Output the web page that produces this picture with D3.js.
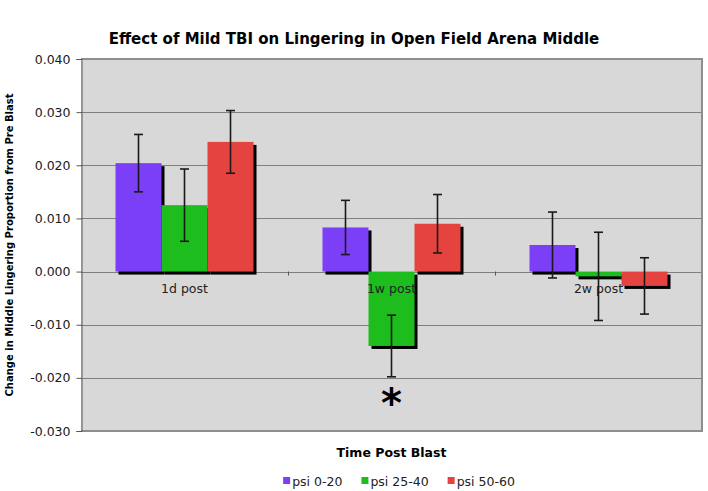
<!DOCTYPE html>
<html>
<head>
<meta charset="utf-8">
<script src="https://cdn.jsdelivr.net/npm/d3@7"></script>
<style>
  html, body { margin: 0; padding: 0; background: #ffffff; }
  svg { display: block; font-family: "DejaVu Sans", Verdana, sans-serif; }
</style>
</head>
<body>
<svg id="chart" width="708" height="491"></svg>
<script>
const categories = ["1d post", "1w post", "2w post"];
const seriesNames = ["psi 0-20", "psi 25-40", "psi 50-60"];
const seriesColors = ["#7b3ff7", "#1cbd1c", "#e5433f"];
const meansPsi0_20  = [0.0204, 0.0083, 0.0050];
const meansPsi25_40 = [0.0125, -0.0140, -0.0009];
const meansPsi50_60 = [0.0244, 0.0090, -0.0027];
const errPsi0_20  = [0.0054, 0.0051, 0.0062];
const errPsi25_40 = [0.0068, 0.0058, 0.0083];
const errPsi50_60 = [0.0059, 0.0055, 0.0053];
const yTicks = [-0.03, -0.02, -0.01, 0, 0.01, 0.02, 0.03, 0.04];
const titleText = "Effect of Mild TBI on Lingering in Open Field Arena Middle";
const xTitleText = "Time Post Blast";
const yTitleText = "Change in Middle Lingering Proportion from Pre Blast";
const significance = [{ category: "1w post", series: "psi 25-40", mark: "*" }];

(function () {
const meansAll = [meansPsi0_20, meansPsi25_40, meansPsi50_60];
const errAll = [errPsi0_20, errPsi25_40, errPsi50_60];
const data = [];
categories.forEach((c, ci) => {
  seriesNames.forEach((s, si) => {
    data.push({ category: c, series: s, value: meansAll[si][ci], err: errAll[si][ci], color: seriesColors[si] });
  });
});

const svg = d3.select("#chart");
const pL = 81, pR = 702, pT = 59, pB = 431;

const x = d3.scaleBand().domain(categories).range([pL, pR]).paddingInner(0).paddingOuter(0);
const xs = d3.scaleBand().domain(seriesNames).range([0, x.bandwidth()]).paddingInner(0).paddingOuter(0.75);
const y = d3.scaleLinear().domain([-0.03, 0.04]).range([pB, pT]);
const loc = d3.formatLocale({ decimal: ".", thousands: ",", grouping: [3], currency: ["$", ""], minus: "-" });
const fmt = loc.format(".3f");

// Plot background
svg.append("rect").attr("x", pL).attr("y", pT).attr("width", pR - pL).attr("height", pB - pT)
  .attr("fill", "#d8d8d8");

// Gridlines
svg.append("g").selectAll("line").data(yTicks.filter(t => t > -0.03 && t < 0.04)).join("line")
  .attr("x1", pL).attr("x2", pR)
  .attr("y1", d => Math.round(y(d)) + 0.5).attr("y2", d => Math.round(y(d)) + 0.5)
  .attr("stroke", "#7f7f7f").attr("stroke-width", 1);

// Border (top, right, bottom)
svg.append("path")
  .attr("d", `M${pL},${pT} H${pR} V${pB} H${pL}`)
  .attr("fill", "none").attr("stroke", "#8e8e8e").attr("stroke-width", 2);

// Y axis
const yAxis = d3.axisLeft(y).tickValues(yTicks).tickFormat(fmt).tickSize(5).tickPadding(6);
const gy = svg.append("g").attr("transform", `translate(${pL + 0.5},0)`).call(yAxis);
gy.select(".domain").attr("stroke", "#555");
gy.selectAll(".tick line").attr("stroke", "#555");
gy.selectAll(".tick text").attr("font-size", 12.5).attr("fill", "#1a1a1a")
  .attr("font-family", "DejaVu Sans, Verdana, sans-serif");

// Shadows
const barX = d => x(d.category) + xs(d.series);
const barY = d => Math.min(y(d.value), y(0));
const barH = d => Math.abs(y(d.value) - y(0));
svg.append("g").selectAll("rect").data(data).join("rect")
  .attr("x", d => barX(d) + 3).attr("y", d => barY(d) + 3)
  .attr("width", xs.bandwidth()).attr("height", d => barH(d))
  .attr("fill", "#000");

// Bars
svg.append("g").selectAll("rect").data(data).join("rect")
  .attr("x", d => barX(d)).attr("y", d => barY(d))
  .attr("width", xs.bandwidth()).attr("height", d => barH(d))
  .attr("fill", d => d.color);

// X axis at zero: ticks between categories
const boundaries = categories.slice(1).map(c => x(c));
svg.append("g").selectAll("line").data(boundaries).join("line")
  .attr("x1", d => d + 0.5).attr("x2", d => d + 0.5)
  .attr("y1", y(0)).attr("y2", y(0) + 4)
  .attr("stroke", "#555").attr("stroke-width", 1);

// Category labels
svg.append("g").selectAll("text").data(categories).join("text")
  .attr("x", d => x(d) + x.bandwidth() / 2).attr("y", y(0) + 21)
  .attr("text-anchor", "middle").attr("font-size", 12.5).attr("fill", "#222")
  .text(d => d);

// Error bars
const eb = svg.append("g").attr("stroke", "#1a1a1a").attr("stroke-width", 1.6);
data.forEach(d => {
  const cx = barX(d) + xs.bandwidth() / 2;
  const y1 = y(d.value + d.err), y2 = y(d.value - d.err);
  eb.append("line").attr("x1", cx).attr("x2", cx).attr("y1", y1).attr("y2", y2);
  eb.append("line").attr("x1", cx - 4.5).attr("x2", cx + 4.5).attr("y1", y1).attr("y2", y1);
  eb.append("line").attr("x1", cx - 4.5).attr("x2", cx + 4.5).attr("y1", y2).attr("y2", y2);
});

// Significance mark
significance.forEach(s => {
  const d = data.find(e => e.category === s.category && e.series === s.series);
  const cx = barX(d) + xs.bandwidth() / 2;
  svg.append("text").attr("x", cx).attr("y", y(d.value - d.err) + 40)
    .attr("text-anchor", "middle").attr("font-size", 40).attr("font-weight", "bold")
    .attr("fill", "#000").text(s.mark);
});

// Title
svg.append("text").attr("x", 354).attr("y", 44).attr("text-anchor", "middle")
  .attr("font-size", 15).attr("font-weight", "bold").attr("fill", "#000").text(titleText);

// X axis title
svg.append("text").attr("x", (pL + pR) / 2).attr("y", 457).attr("text-anchor", "middle")
  .attr("font-size", 12.5).attr("font-weight", "bold").attr("fill", "#000").text(xTitleText);

// Y axis title
svg.append("text").attr("transform", `translate(13,${(pT + pB) / 2}) rotate(-90)`)
  .attr("text-anchor", "middle").attr("font-size", 10).attr("font-weight", "bold").attr("fill", "#000")
  .text(yTitleText);

// Legend
const lg = svg.append("g");
const items = seriesNames.map((s, i) => {
  const g = lg.append("g");
  g.append("rect").attr("x", 0).attr("y", -4).attr("width", 7).attr("height", 7).attr("fill", seriesColors[i]);
  const t = g.append("text").attr("x", 9).attr("y", 4.5).attr("font-size", 12.5).attr("fill", "#222").text(s);
  return { g, w: 9 + t.node().getComputedTextLength() };
});
const gap = 19;
const total = d3.sum(items, d => d.w) + gap * (items.length - 1);
let lx = 399 - total / 2;
items.forEach(it => { it.g.attr("transform", `translate(${lx},481)`); lx += it.w + gap; });
})();
</script>
</body>
</html>
